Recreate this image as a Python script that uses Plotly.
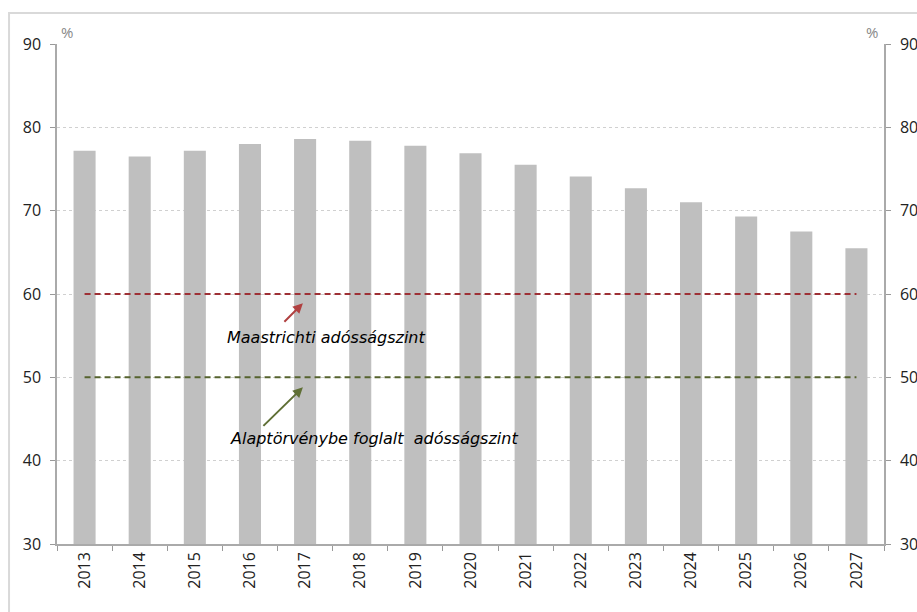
import plotly.graph_objects as go

years = ["2013", "2014", "2015", "2016", "2017", "2018", "2019", "2020",
         "2021", "2022", "2023", "2024", "2025", "2026", "2027"]
debt = [77.2, 76.5, 77.2, 78.0, 78.6, 78.4, 77.8, 76.9,
        75.5, 74.1, 72.7, 71.0, 69.3, 67.5, 65.5]
maastricht_level = 60
constitution_level = 50
y_ticks = [30, 40, 50, 60, 70, 80, 90]
label_maastricht = "Maastrichti adósságszint"
label_constitution = "Alaptörvénybe foglalt  adósságszint"

RED = "#9E3035"
GREEN = "#56632E"
tick_font = dict(family="Open Sans, Liberation Sans, sans-serif", size=16, color="#222222")

fig = go.Figure()
fig.add_trace(go.Bar(x=years, y=debt, marker=dict(color="#BFBFBF", line=dict(width=0)),
                     showlegend=False, hoverinfo="x+y"))
fig.add_trace(go.Scatter(x=years, y=[maastricht_level] * len(years), mode="lines",
                         line=dict(color=RED, width=2, dash="6px,4px"), showlegend=False))
fig.add_trace(go.Scatter(x=years, y=[constitution_level] * len(years), mode="lines",
                         line=dict(color=GREEN, width=2, dash="6px,4px"), showlegend=False))
# invisible trace to activate right axis
fig.add_trace(go.Scatter(x=years, y=debt, yaxis="y2", mode="lines",
                         line=dict(width=0, color="rgba(0,0,0,0)"), showlegend=False, hoverinfo="skip"))

axis_common = dict(range=[30, 90], tickvals=y_ticks, ticks="outside", ticklen=5,
                   tickcolor="#999999", showline=True, linecolor="#AAAAAA", linewidth=1.5,
                   tickfont=tick_font, ticklabelstandoff=6, zeroline=False, automargin=False)

fig.update_layout(
    width=917, height=612,
    margin=dict(l=57, r=33, t=44, b=68),
    paper_bgcolor="white", plot_bgcolor="white",
    bargap=0.6,
    xaxis=dict(type="category", tickson="boundaries", ticks="outside", ticklen=5,
               tickcolor="#999999", showline=True, linecolor="#AAAAAA", linewidth=1.5,
               tickangle=-90, tickfont=tick_font, showgrid=False, range=[-0.5, 14.5],
               automargin=False),
    yaxis=dict(**axis_common, showgrid=True, gridcolor="#D0D0D0", griddash="dot", gridwidth=1),
    yaxis2=dict(**axis_common, overlaying="y", side="right", showgrid=False),
    shapes=[dict(type="rect", xref="paper", yref="paper", x0=-0.058, x1=1.2, y0=-0.3, y1=1.062,
                 line=dict(color="#D9D9D9", width=2), fillcolor="rgba(0,0,0,0)", layer="below")],
    annotations=[
        dict(text="%", xref="paper", yref="paper", x=0.0121, y=1.0, xanchor="center", yanchor="bottom",
             showarrow=False, font=dict(family="Open Sans, sans-serif", size=15, color="#888888")),
        dict(text="%", xref="paper", yref="paper", x=0.9855, y=1.0, xanchor="center", yanchor="bottom",
             showarrow=False, font=dict(family="Open Sans, sans-serif", size=15, color="#888888")),
        dict(x=3.96, y=58.9, xref="x", yref="y", ax=-20, ay=20, showarrow=True,
             arrowhead=2, arrowsize=1, arrowwidth=2, arrowcolor="#B04040", text=""),
        dict(x=3.96, y=48.8, xref="x", yref="y", ax=-41, ay=40, showarrow=True,
             arrowhead=2, arrowsize=1, arrowwidth=2, arrowcolor="#5F6F35", text=""),
        dict(text="<i>" + label_maastricht + "</i>", x=2.55, y=54.8, xref="x", yref="y",
             xanchor="left", yanchor="middle", showarrow=False,
             font=dict(family="DejaVu Sans, sans-serif", size=16, color="#000000")),
        dict(text="<i>" + label_constitution + "</i>", x=2.6, y=42.7, xref="x", yref="y",
             xanchor="left", yanchor="middle", showarrow=False,
             font=dict(family="DejaVu Sans, sans-serif", size=16, color="#000000")),
    ],
)

fig.write_html("out.html")
